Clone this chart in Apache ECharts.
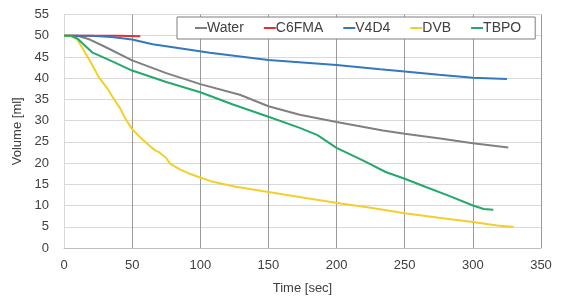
<!DOCTYPE html>
<html>
<head>
<meta charset="utf-8">
<script src="https://cdn.jsdelivr.net/npm/echarts@6/dist/echarts.min.js"></script>
<style>
  html, body { margin: 0; padding: 0; background: #fff; }
  #chart { width: 562px; height: 300px; }
</style>
</head>
<body>
<div id="chart"></div>
<script>
const waterT = [0, 10, 19, 30, 50, 75, 100, 129, 150, 173, 200, 234, 250, 276, 300, 326]
const waterV = [50, 50, 49.1, 47.4, 44.2, 41.2, 38.6, 36.1, 33.4, 31.4, 29.7, 27.7, 26.9, 25.8, 24.7, 23.7]

const c6fmaT = [0, 20, 40, 56]
const c6fmaV = [50, 50, 50, 49.9]

const v4d4T = [0, 20, 35, 50, 65, 80, 107, 150, 200, 232, 250, 275, 300, 325]
const v4d4V = [50, 50, 49.7, 49.1, 48, 47.3, 46, 44.3, 43.1, 42.1, 41.6, 40.8, 40.1, 39.8]

const dvbT = [0, 5, 10, 14, 20, 26, 32, 36, 41, 45, 50, 56, 63, 67, 70, 75, 78, 85, 92, 100, 107, 125, 150, 175, 203, 225, 250, 275, 300, 318, 330]
const dvbV = [50, 50, 49, 46.8, 43.5, 40, 37.5, 35.4, 33, 30.5, 28, 26, 24, 23, 22.5, 21.2, 19.8, 18.5, 17.5, 16.6, 15.8, 14.5, 13.2, 11.9, 10.5, 9.5, 8.2, 7.1, 6.1, 5.3, 4.95]

const tbpoT = [0, 5, 10, 21, 35, 50, 75, 100, 124, 150, 173, 186, 200, 220, 236, 250, 266, 284, 300, 308, 315]
const tbpoV = [50, 50, 49.3, 46, 44, 41.8, 39.1, 36.7, 33.8, 30.9, 28.3, 26.6, 23.6, 20.5, 17.9, 16.3, 14.3, 12.1, 10, 9.2, 9]

const xTicks = [0, 50, 100, 150, 200, 250, 300, 350]
const yTicks = [0, 5, 10, 15, 20, 25, 30, 35, 40, 45, 50, 55]

const font = "'Liberation Sans', Arial, sans-serif"
const pair = (t, v) => t.map((x, i) => [x, v[i]])

const lineSeries = (name, t, v, color) => ({
  name,
  type: 'line',
  data: pair(t, v),
  showSymbol: false,
  smooth: false,
  lineStyle: { width: 2, color },
  itemStyle: { color },
})

const myChart = echarts.init(document.getElementById('chart'))

myChart.setOption({
  animation: false,
  backgroundColor: '#fff',
  textStyle: { fontFamily: font },
  grid: { left: 64, right: 21, top: 14.5, bottom: 45.7 },
  legend: {
    left: 177,
    top: 17,
    padding: [4, 14, 4, 18],
    itemGap: 20,
    itemWidth: 12,
    itemHeight: 2,
    icon: 'rect',
    backgroundColor: '#fff',
    borderColor: '#7f7f7f',
    borderWidth: 1,
    textStyle: { fontSize: 14, color: '#404040', fontFamily: font, padding: [0, 0, 0, -5] },
    data: ['Water', 'C6FMA', 'V4D4', 'DVB', 'TBPO'],
  },
  xAxis: {
    type: 'value',
    min: xTicks[0],
    max: xTicks[xTicks.length - 1],
    interval: 50,
    name: 'Time [sec]',
    nameLocation: 'middle',
    nameGap: 34,
    nameTextStyle: { fontSize: 13, color: '#404040', fontFamily: font },
    axisLine: { show: true, lineStyle: { color: '#bfbfbf' } },
    axisTick: { show: false },
    axisLabel: { fontSize: 13, color: '#404040', margin: 11 },
    splitLine: { show: true, lineStyle: { color: '#9a9a9a' } },
  },
  yAxis: {
    type: 'value',
    min: yTicks[0],
    max: yTicks[yTicks.length - 1],
    interval: 5,
    name: 'Volume [ml]',
    nameLocation: 'middle',
    nameGap: 40,
    nameTextStyle: { fontSize: 13, color: '#404040', fontFamily: font },
    axisLine: { show: true, lineStyle: { color: '#d9d9d9' } },
    axisTick: { show: false },
    axisLabel: { fontSize: 13, color: '#404040', margin: 15 },
    splitLine: { show: true, lineStyle: { color: '#d9d9d9' } },
  },
  series: [
    lineSeries('Water', waterT, waterV, '#808080'),
    lineSeries('C6FMA', c6fmaT, c6fmaV, '#e3302f'),
    lineSeries('V4D4', v4d4T, v4d4V, '#3478bd'),
    lineSeries('DVB', dvbT, dvbV, '#f3cf2a'),
    lineSeries('TBPO', tbpoT, tbpoV, '#25a96a'),
  ],
})

window.addEventListener('resize', () => {
  myChart.resize()
})
</script>
</body>
</html>
